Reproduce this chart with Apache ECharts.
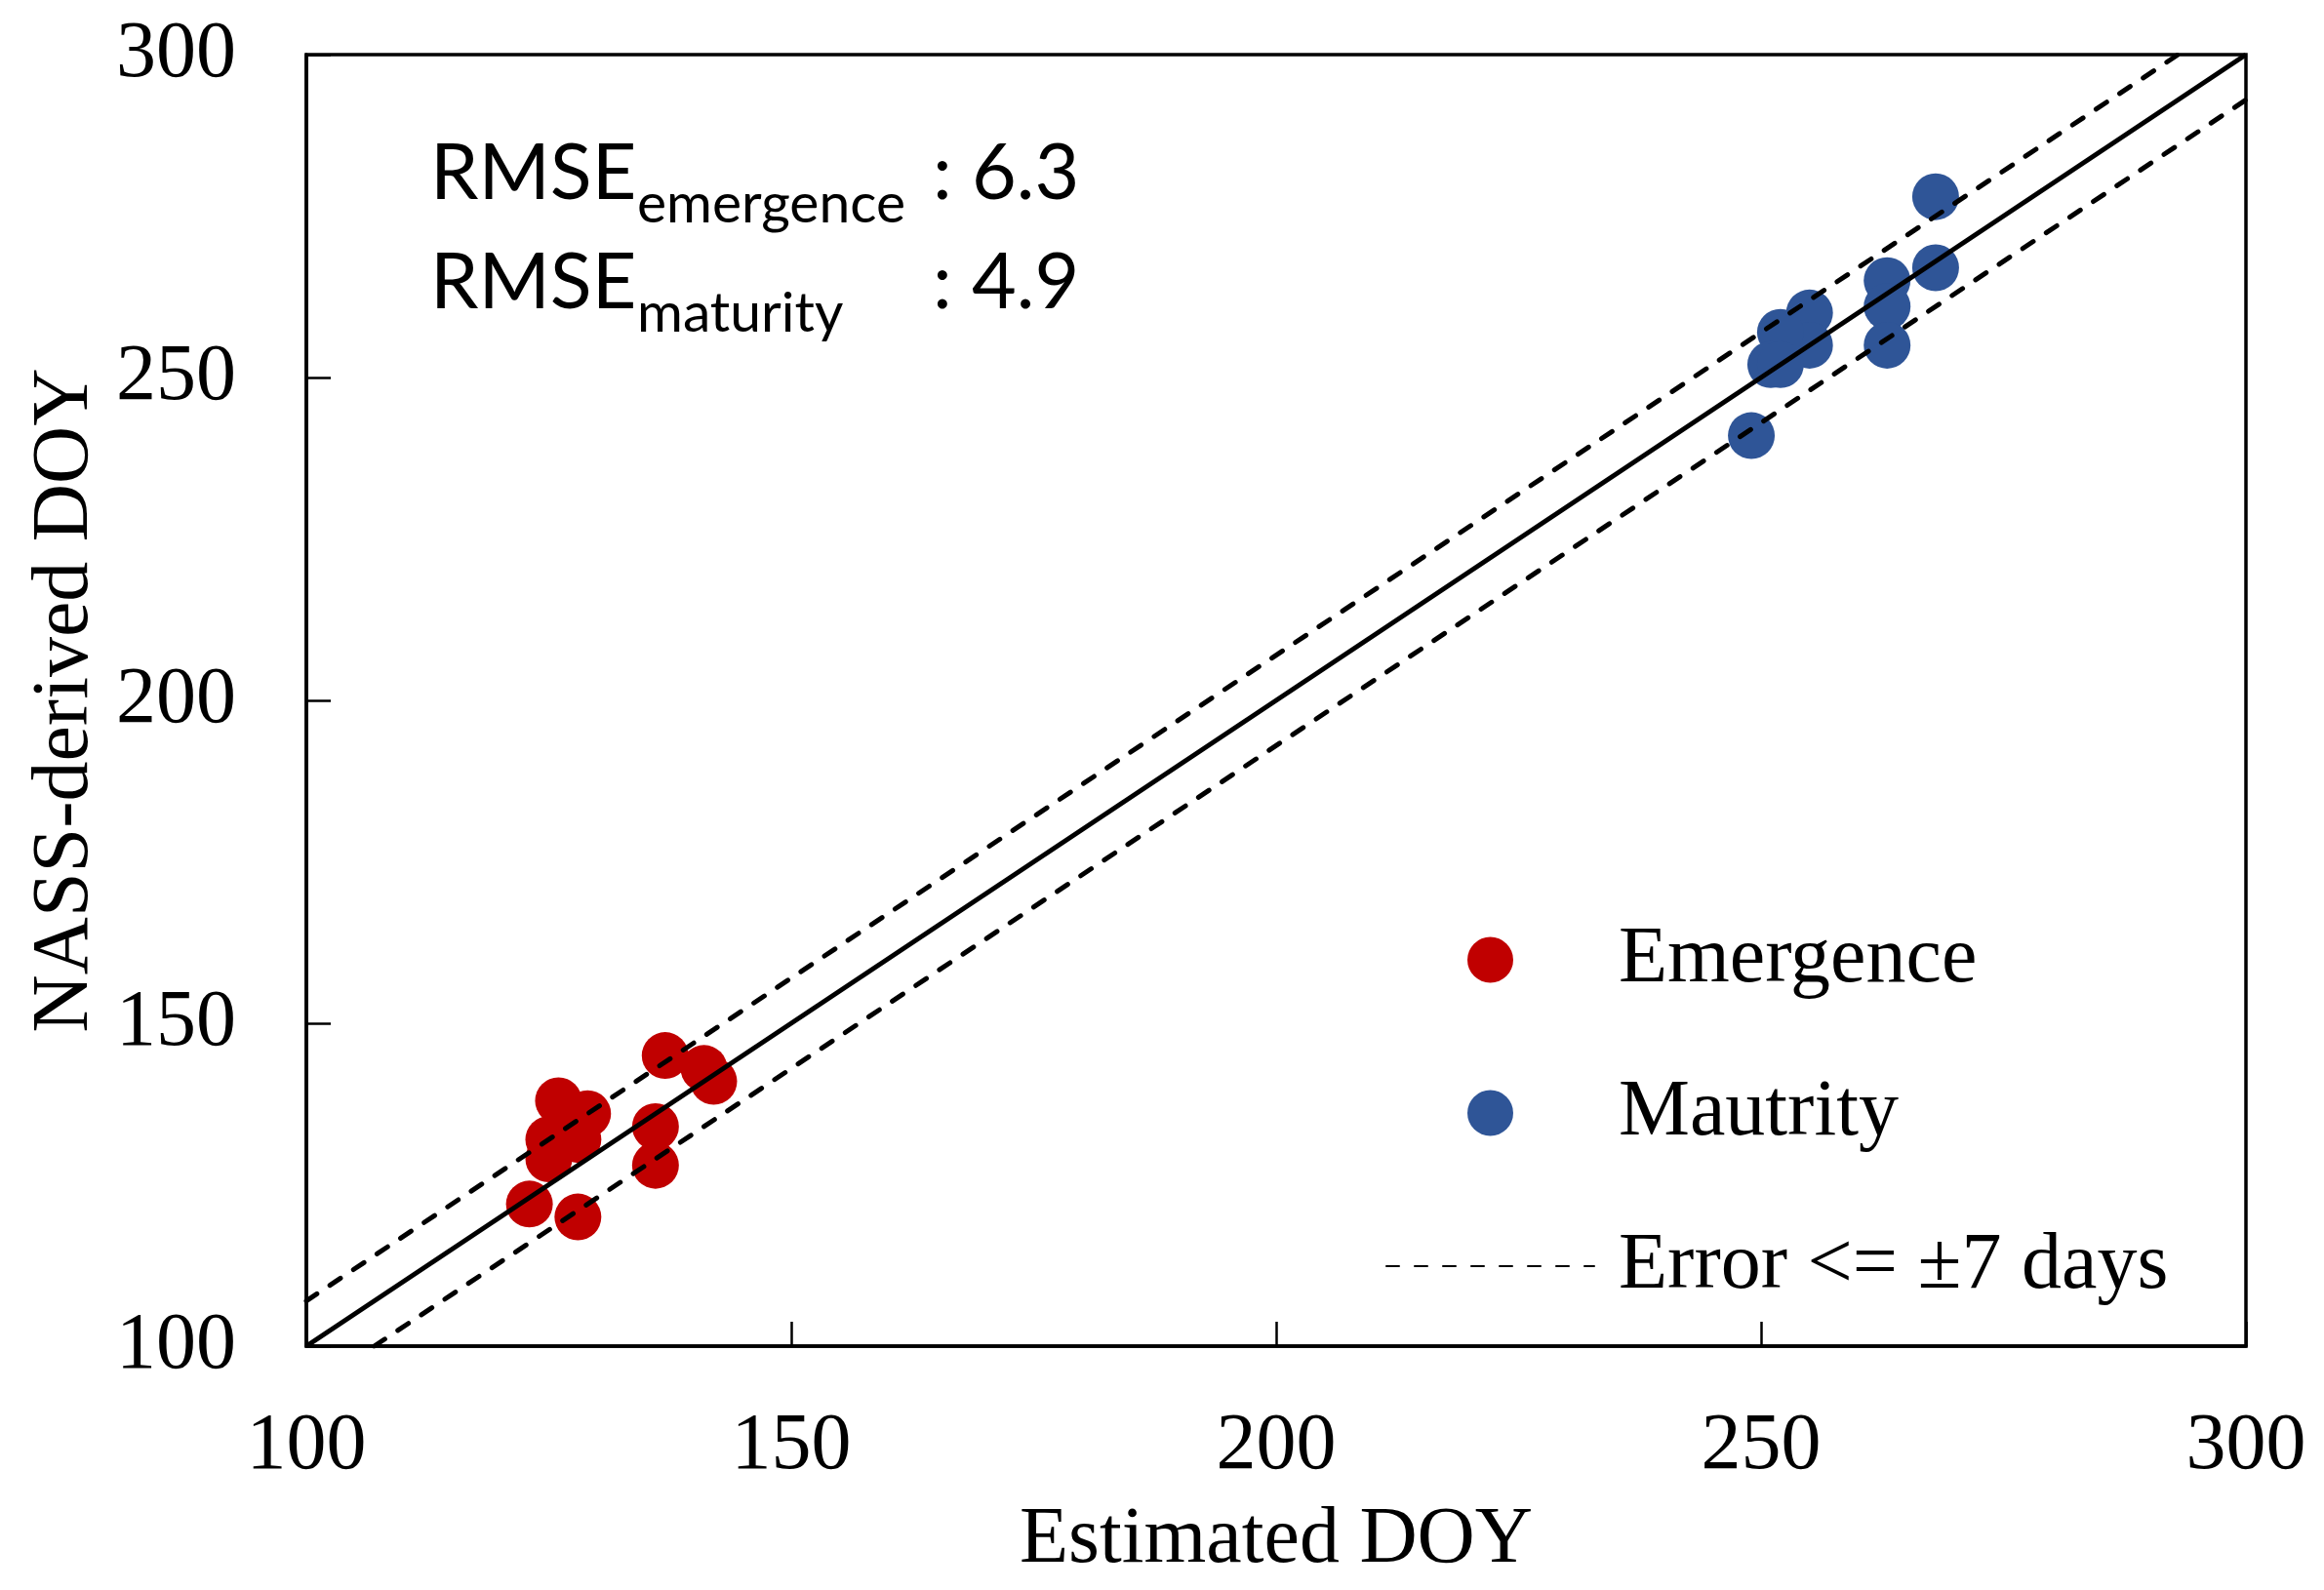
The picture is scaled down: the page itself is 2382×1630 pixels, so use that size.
<!DOCTYPE html>
<html>
<head>
<meta charset="utf-8">
<script src="https://cdn.jsdelivr.net/npm/echarts@6/dist/echarts.min.js"></script>
<style>
  html, body { margin: 0; padding: 0; background: #fff; }
  #main { width: 2382px; height: 1630px; }
</style>
</head>
<body>
<div id="main"></div>
<script>
// estimated vs NASS DOY
var emergenceX = [123, 128, 125, 125, 126, 129, 128, 136, 136, 137, 141, 142];
var emergenceY = [122, 120, 129, 132, 138, 136, 132, 134, 128, 145, 143, 141];
var maturityX = [268, 268, 263, 263, 263, 255, 255, 252, 251, 252, 249];
var maturityY = [278, 267, 265, 261, 255, 260, 255, 257, 252, 252, 241];
var axisMin = 100, axisMax = 300, axisStep = 50;
var errorDays = 7;

var serif = '"Liberation Serif", "Times New Roman", serif';
var sans = 'Lato, "Open Sans", sans-serif';

function pairs(xs, ys) {
  var out = [];
  for (var i = 0; i < xs.length; i++) out.push([xs[i], ys[i]]);
  return out;
}

var chart = echarts.init(document.getElementById('main'));

var dashStyle = { color: '#000', width: 5, type: [13, 16], cap: 'round' };

var option = {
  backgroundColor: '#fff',
  animation: false,
  grid: {
    left: 314, right: 80, top: 56, bottom: 250,
    containLabel: false, outerBoundsMode: 'none',
    show: true, borderColor: '#000', borderWidth: 3.5
  },
  xAxis: {
    type: 'value', min: axisMin, max: axisMax, interval: axisStep,
    name: 'Estimated DOY', nameLocation: 'middle', nameGap: 158,
    nameTextStyle: { fontFamily: serif, fontSize: 82, color: '#000' },
    axisLine: { show: true, lineStyle: { color: '#000', width: 3.5 } },
    axisTick: { show: true, inside: true, length: 25, lineStyle: { color: '#000', width: 2.5 } },
    axisLabel: { margin: 62, fontFamily: serif, fontSize: 82, color: '#000' },
    splitLine: { show: false }
  },
  yAxis: {
    type: 'value', min: axisMin, max: axisMax, interval: axisStep,
    name: 'NASS-derived DOY', nameLocation: 'middle', nameGap: 196,
    nameTextStyle: { fontFamily: serif, fontSize: 82, color: '#000' },
    axisLine: { show: true, lineStyle: { color: '#000', width: 3.5 } },
    axisTick: { show: true, inside: true, length: 25, lineStyle: { color: '#000', width: 2.5 } },
    axisLabel: { margin: 72, fontFamily: serif, fontSize: 82, color: '#000' },
    splitLine: { show: false }
  },
  legend: {
    data: [
      'Emergence',
      'Mautrity',
      {
        name: 'Error <= \u00b17 days',
        itemStyle: { color: 'rgba(0,0,0,0)', borderWidth: 0, opacity: 0 }
      }
    ],
    orient: 'vertical',
    left: 1415, top: 938,
    itemWidth: 213, itemHeight: 47, itemGap: 75,
    textStyle: { fontFamily: serif, fontSize: 82, color: '#000', padding: [0, 0, 0, 20] }
  },
  series: [
    {
      name: '1:1', type: 'line', symbol: 'none', silent: true,
      lineStyle: { color: '#000', width: 5 },
      data: [[axisMin, axisMin], [axisMax, axisMax]]
    },
    {
      name: 'Error <= \u00b17 days', type: 'line', symbol: 'none', silent: true,
      itemStyle: { color: '#000' },
      lineStyle: dashStyle,
      data: [[axisMin, axisMin + errorDays], [axisMax - errorDays, axisMax]]
    },
    {
      name: 'Error <= \u00b17 days', type: 'line', symbol: 'none', silent: true,
      itemStyle: { color: '#000' },
      lineStyle: dashStyle,
      data: [[axisMin + errorDays, axisMin], [axisMax, axisMax - errorDays]]
    },
    {
      name: 'Emergence', type: 'scatter', symbol: 'circle', symbolSize: 48,
      itemStyle: { color: '#C00000', opacity: 1 },
      data: pairs(emergenceX, emergenceY)
    },
    {
      name: 'Mautrity', type: 'scatter', symbol: 'circle', symbolSize: 48,
      itemStyle: { color: '#2F5597', opacity: 1 },
      data: pairs(maturityX, maturityY)
    }
  ],
  graphic: [
    { type: 'text', left: 441, top: 139, style: { text: 'RMSE', font: '79px ' + sans, fill: '#000' } },
    { type: 'text', left: 653, top: 181, style: { text: 'emergence', font: '57px ' + sans, fill: '#000' } },
    { type: 'text', left: 956, top: 139, style: { text: ': 6.3', font: '79px ' + sans, fill: '#000' } },
    { type: 'text', left: 441, top: 251, style: { text: 'RMSE', font: '79px ' + sans, fill: '#000' } },
    { type: 'text', left: 653, top: 293, style: { text: 'maturity', font: '57px ' + sans, fill: '#000' } },
    { type: 'text', left: 956, top: 251, style: { text: ': 4.9', font: '79px ' + sans, fill: '#000' } }
  ]
};

chart.setOption(option);
</script>
</body>
</html>
